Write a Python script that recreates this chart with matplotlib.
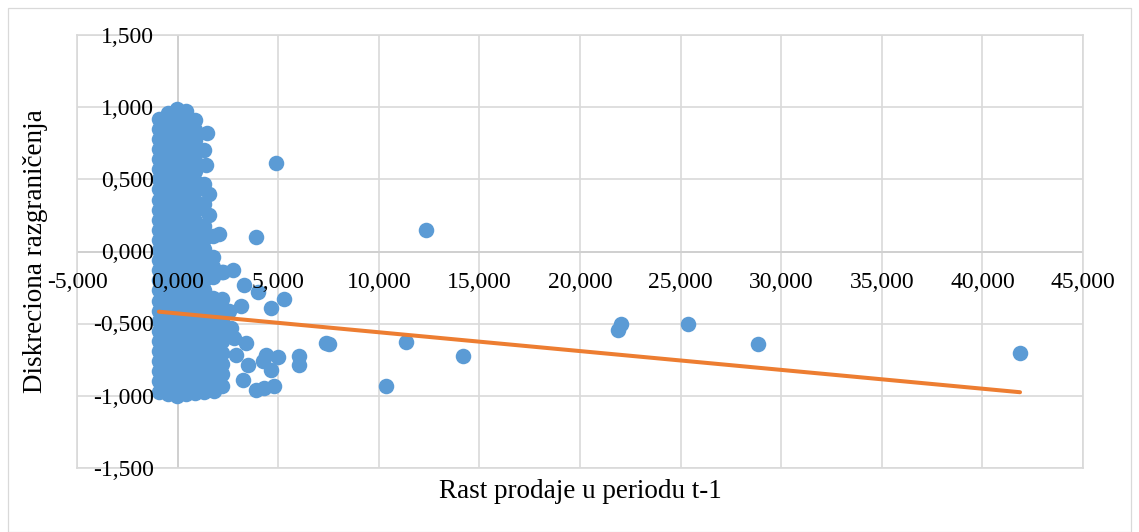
import matplotlib
matplotlib.use("Agg")
import matplotlib.pyplot as plt
from matplotlib.patches import Rectangle

plt.rcParams['font.family'] = ['Liberation Serif', 'DejaVu Serif']

# ---------------- data ----------------
# dense cluster near zero growth, read column by column (x value, y values)
col1_x = -930
col1_y = [-0.97, -0.90, -0.83, -0.76, -0.69, -0.62, -0.55, -0.48, -0.41, -0.34, -0.27, -0.20, -0.13, -0.06,
          0.01, 0.08, 0.15, 0.22, 0.29, 0.36, 0.43, 0.50, 0.57, 0.64, 0.71, 0.78, 0.85, 0.92]
col2_x = -480
col2_y = [-0.99, -0.93, -0.86, -0.79, -0.72, -0.65, -0.58, -0.51, -0.44, -0.37, -0.30, -0.23, -0.16, -0.09,
          -0.02, 0.05, 0.12, 0.19, 0.26, 0.33, 0.40, 0.47, 0.54, 0.61, 0.68, 0.75, 0.82, 0.89, 0.96]
col3_x = -30
col3_y = [-1.00, -0.94, -0.87, -0.80, -0.73, -0.66, -0.59, -0.52, -0.45, -0.38, -0.31, -0.24, -0.17, -0.10,
          -0.03, 0.04, 0.11, 0.18, 0.25, 0.32, 0.39, 0.46, 0.53, 0.60, 0.67, 0.74, 0.81, 0.88, 0.94, 0.99]
col4_x = 420
col4_y = [-0.99, -0.92, -0.85, -0.78, -0.71, -0.64, -0.57, -0.50, -0.43, -0.36, -0.29, -0.22, -0.15, -0.08,
          -0.01, 0.06, 0.13, 0.20, 0.27, 0.34, 0.41, 0.48, 0.55, 0.62, 0.69, 0.76, 0.83, 0.90, 0.97]
col5_x = 870
col5_y = [-0.98, -0.91, -0.84, -0.77, -0.70, -0.63, -0.56, -0.49, -0.42, -0.35, -0.28, -0.21, -0.14, -0.07,
          0.00, 0.07, 0.14, 0.21, 0.28, 0.35, 0.42, 0.49, 0.56, 0.63, 0.70, 0.77, 0.84, 0.91]
col6_x = 1320
col6_y = [-0.97, -0.90, -0.83, -0.76, -0.69, -0.62, -0.55, -0.48, -0.41, -0.34, -0.27, -0.20, -0.13, -0.06,
          0.02, 0.09, 0.18, 0.33, 0.47, 0.70]
col7_x = 1770
col7_y = [-0.95, -0.88, -0.81, -0.74, -0.67, -0.60, -0.53, -0.46, -0.39, -0.32, -0.18, -0.11, -0.04]
col8_x = 2200
col8_y = [-0.93, -0.85, -0.78, -0.70, -0.62, -0.55, -0.47, -0.40, -0.33, -0.14]

# scattered observations
out_x = [1450, 1400, 1580, 1580, 1740, 2070,
         4870, 3900, 12360,
         2740, 2240, 3320, 3980, 5310, 4650, 3150, 2570,
         3400, 2900, 3480, 4400, 4975, 4230, 4650, 6050, 6050, 3230,
         3900, 4310, 4810, 1830, 2650, 2800,
         7380, 7500, 10370, 11330, 14180, 21890, 22060, 25370, 28855, 41870]
out_y = [0.82, 0.60, 0.40, 0.25, 0.11, 0.12,
         0.612, 0.097, 0.150,
         -0.13, -0.14, -0.23, -0.28, -0.33, -0.39, -0.38, -0.415,
         -0.635, -0.715, -0.785, -0.715, -0.73, -0.76, -0.82, -0.727, -0.785, -0.89,
         -0.958, -0.946, -0.935, -0.965, -0.53, -0.60,
         -0.634, -0.64, -0.93, -0.628, -0.722, -0.547, -0.50, -0.505, -0.64, -0.70]

# linear trend line end points
trend_x = [-930, 41870]
trend_y = [-0.417, -0.975]

x_ticks = [-5000, 0, 5000, 10000, 15000, 20000, 25000, 30000, 35000, 40000, 45000]
x_tick_labels = ["-5,000", "0,000", "5,000", "10,000", "15,000", "20,000",
                 "25,000", "30,000", "35,000", "40,000", "45,000"]
y_ticks = [-1.5, -1.0, -0.5, 0.0, 0.5, 1.0, 1.5]
y_tick_labels = ["-1,500", "-1,000", "-0,500", "0,000", "0,500", "1,000", "1,500"]

x_title = "Rast prodaje u periodu t-1"
y_title = "Diskreciona razgraničenja"

# ---------------- figure ----------------
W, H = 1139, 532
fig = plt.figure(figsize=(W / 100, H / 100), dpi=100)
fig.patch.set_facecolor('white')

# chart-area border
fig.patches.append(Rectangle((8 / W, 0.5 / H), (1131 - 8) / W, (524 - 0.5) / H,
                             transform=fig.transFigure, fill=False,
                             edgecolor='#D9D9D9', linewidth=0.9, zorder=0))

left, right, top, bottom = 77, 1083, 35, 468
ax = fig.add_axes([left / W, 1 - bottom / H, (right - left) / W, (bottom - top) / H])
ax.set_xlim(x_ticks[0], x_ticks[-1])
ax.set_ylim(y_ticks[0], y_ticks[-1])
ax.set_xticks(x_ticks)
ax.set_yticks(y_ticks)
ax.tick_params(length=0, labelbottom=False, labelleft=False)
ax.set_axisbelow(True)
ax.grid(True, color='#D9D9D9', linewidth=1.2)
for s in ax.spines.values():
    s.set_color('#D9D9D9')
    s.set_linewidth(1.2)

ax.axhline(0, color='#CFCFCF', linewidth=1.3, zorder=0.6)
ax.axvline(0, color='#CFCFCF', linewidth=1.3, zorder=0.6)

xs, ys = [], []
for cx, cy in [(col1_x, col1_y), (col2_x, col2_y), (col3_x, col3_y), (col4_x, col4_y),
               (col5_x, col5_y), (col6_x, col6_y), (col7_x, col7_y), (col8_x, col8_y)]:
    xs += [cx] * len(cy)
    ys += cy
xs += out_x
ys += out_y

ax.scatter(xs, ys, s=125, color='#5B9BD5', linewidths=0, zorder=3, clip_on=False)
ax.plot(trend_x, trend_y, color='#ED7D31', linewidth=2.9, solid_capstyle='round', zorder=4)

# tick labels drawn on top of the markers (as in Excel)
for xv, lab in zip(x_ticks, x_tick_labels):
    ax.annotate(lab, xy=(xv, 0), xytext=(0, -26.3), textcoords='offset points',
                ha='center', va='baseline', fontsize=17, color='#000000',
                zorder=6, annotation_clip=False)
for yv, lab in zip(y_ticks, y_tick_labels):
    ax.annotate(lab, xy=(0, yv), xytext=(-16.8, -5.6), textcoords='offset points',
                ha='right', va='baseline', fontsize=17, color='#000000',
                zorder=6, annotation_clip=False)

fig.text(((left + right) / 2) / W, 1 - 498 / H, x_title, ha='center', va='baseline',
         fontsize=19.5, color='#000000')
fig.text(36 / W, 1 - ((top + bottom) / 2) / H, y_title, ha='center', va='center',
         rotation=90, fontsize=19.5, color='#000000')

fig.savefig('out.png', dpi=100, facecolor='white')
